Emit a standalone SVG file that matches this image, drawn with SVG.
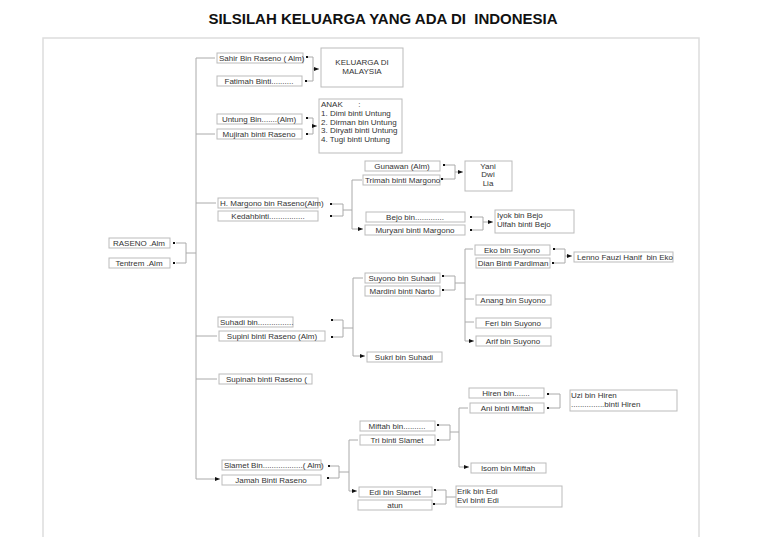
<svg xmlns="http://www.w3.org/2000/svg" width="760" height="537" viewBox="0 0 760 537" xml:space="preserve">
<style>
rect.b{fill:#fff;stroke:#bbb;stroke-width:1}
text{font-family:"Liberation Sans",Arial,sans-serif;font-size:8px;fill:#333;white-space:pre}
.c{text-anchor:middle}
#conn path{fill:none;stroke:#aaa;stroke-width:1}
#conn rect{fill:#111}
</style>
<defs><marker id="a" markerWidth="5" markerHeight="4" refX="5" refY="2" orient="auto" markerUnits="userSpaceOnUse"><path d="M0,0L5,2L0,4Z" fill="#111"/></marker></defs>
<rect width="760" height="537" fill="#fff"/>
<text x="383" y="24" class="c" style="font-size:15px;font-weight:bold;fill:#111">SILSILAH KELUARGA YANG ADA DI  INDONESIA</text>
<path d="M43,537V38H699V537" fill="none" stroke="#ddd" stroke-width="1.5"/>
<g id="conn">
<path d="M176,243H186V263H176M186,253H196M196,58V479"/>
<path d="M196,58H215M196,134H215M196,203H216M196,336H217M196,379H217M196,479H220" marker-end="url(#a)"/>
<path d="M308,57H313V81H307M313,69H319" marker-end="url(#a)"/>
<path d="M308,118H313V134H308M313,126H317" marker-end="url(#a)"/>
<path d="M332,204H343V216H332M343,210H352M352,180V229"/>
<path d="M352,180H362M352,229H363" marker-end="url(#a)"/>
<path d="M445,165H455V179H443M455,172H463" marker-end="url(#a)"/>
<path d="M472,217H483V230H472M483,222H493" marker-end="url(#a)"/>
<path d="M333,320H343V337H333M343,328H353M353,278V356"/>
<path d="M353,278H363M353,356H365" marker-end="url(#a)"/>
<path d="M444,276H455V290H444M455,283H465M465,249V341"/>
<path d="M465,249H473M465,299H474M465,322H474M465,341H474" marker-end="url(#a)"/>
<path d="M555,249H565V263H554M565,256H572" marker-end="url(#a)"/>
<path d="M330,466H339V478H329M339,472H349M349,440V491"/>
<path d="M349,440H358M349,491H357" marker-end="url(#a)"/>
<path d="M439,425H450V440H439M450,432H459M459,408V467"/>
<path d="M459,408H468M459,467H469" marker-end="url(#a)"/>
<path d="M549,394H560V408H549"/>
<path d="M436,490H446V504H435M446,497H456"/>
<rect x="173" y="242" width="2" height="2"/><rect x="173" y="262" width="2" height="2"/>
<rect x="306" y="56" width="2" height="2"/><rect x="305" y="80" width="2" height="2"/>
<rect x="306" y="117" width="2" height="2"/><rect x="306" y="133" width="2" height="2"/>
<rect x="330" y="203" width="2" height="2"/><rect x="330" y="215" width="2" height="2"/>
<rect x="443" y="164" width="2" height="2"/><rect x="441" y="178" width="2" height="2"/>
<rect x="470" y="216" width="2" height="2"/><rect x="470" y="229" width="2" height="2"/>
<rect x="331" y="319" width="2" height="2"/><rect x="331" y="336" width="2" height="2"/>
<rect x="442" y="275" width="2" height="2"/><rect x="442" y="289" width="2" height="2"/>
<rect x="553" y="248" width="2" height="2"/><rect x="552" y="262" width="2" height="2"/>
<rect x="328" y="465" width="2" height="2"/><rect x="327" y="477" width="2" height="2"/>
<rect x="437" y="424" width="2" height="2"/><rect x="437" y="439" width="2" height="2"/>
<rect x="547" y="393" width="2" height="2"/><rect x="547" y="407" width="2" height="2"/>
<rect x="434" y="489" width="2" height="2"/><rect x="433" y="503" width="2" height="2"/>
</g>
<g id="raseno"><rect class="b" x="109" y="238" width="61" height="10"/><text x="139" y="246" class="c">RASENO .Alm</text></g>
<g id="tentrem"><rect class="b" x="109" y="258" width="61" height="10"/><text x="139" y="266" class="c">Tentrem .Alm</text></g>
<g id="sahir"><rect class="b" x="217" y="53" width="86" height="10"/><text x="219" y="61">Sahir Bin Raseno ( Alm)</text></g>
<g id="fatimah"><rect class="b" x="217" y="76" width="85" height="10"/><text x="259" y="84" class="c">Fatimah Binti..........</text></g>
<g id="malaysia"><rect class="b" x="321" y="48" width="82" height="39"/><text x="362" y="65" class="c">KELUARGA DI</text><text x="362" y="74" class="c">MALAYSIA</text></g>
<g id="untung"><rect class="b" x="217" y="114" width="85" height="10"/><text x="259" y="122" class="c">Untung Bin.......(Alm)</text></g>
<g id="mujirah"><rect class="b" x="217" y="129" width="85" height="10"/><text x="259" y="137" class="c">Mujirah binti Raseno</text></g>
<g id="anak"><rect class="b" x="319" y="99" width="83" height="54"/><text x="321" y="107">ANAK       :</text><text x="321" y="116">1. Dimi binti Untung</text><text x="321" y="125">2. Dirman bin Untung</text><text x="321" y="133">3. Diryati binti Untung</text><text x="321" y="142">4. Tugi binti Untung</text></g>
<g id="margono"><rect class="b" x="218" y="198" width="100" height="10"/><text x="220" y="206">H. Margono bin Raseno(Alm)</text></g>
<g id="kedah"><rect class="b" x="218" y="211" width="100" height="10"/><text x="268" y="219" class="c">Kedahbinti................</text></g>
<g id="gunawan"><rect class="b" x="365" y="161" width="75" height="10"/><text x="402" y="169" class="c">Gunawan (Alm)</text></g>
<g id="trimah"><rect class="b" x="363" y="175" width="77" height="10"/><text x="365" y="183">Trimah binti Margono</text></g>
<g id="yani"><rect class="b" x="465" y="161" width="47" height="30"/><text x="488" y="169" class="c">Yani</text><text x="488" y="177" class="c">Dwi</text><text x="488" y="186" class="c">Lia</text></g>
<g id="bejo"><rect class="b" x="366" y="212" width="99" height="10"/><text x="415" y="220" class="c">Bejo bin.............</text></g>
<g id="muryani"><rect class="b" x="365" y="225" width="100" height="10"/><text x="415" y="233" class="c">Muryani binti Margono</text></g>
<g id="iyok"><rect class="b" x="495" y="210" width="79" height="23"/><text x="497" y="218">Iyok bin Bejo</text><text x="497" y="227">Ulfah binti Bejo</text></g>
<g id="eko"><rect class="b" x="475" y="245" width="75" height="10"/><text x="512" y="253" class="c">Eko bin Suyono</text></g>
<g id="dian"><rect class="b" x="476" y="258" width="74" height="10"/><text x="513" y="266" class="c">Dian Binti Pardiman</text></g>
<g id="lenno"><rect class="b" x="574" y="252" width="99" height="10"/><text x="577" y="260">Lenno Fauzi Hanif  bin Eko</text></g>
<g id="suyono"><rect class="b" x="365" y="273" width="75" height="10"/><text x="402" y="281" class="c">Suyono bin Suhadi</text></g>
<g id="mardini"><rect class="b" x="365" y="286" width="75" height="10"/><text x="402" y="294" class="c">Mardini binti Narto</text></g>
<g id="anang"><rect class="b" x="476" y="295" width="75" height="10"/><text x="513" y="303" class="c">Anang bin Suyono</text></g>
<g id="feri"><rect class="b" x="476" y="318" width="75" height="10"/><text x="513" y="326" class="c">Feri bin Suyono</text></g>
<g id="arif"><rect class="b" x="476" y="336" width="75" height="10"/><text x="513" y="344" class="c">Arif bin Suyono</text></g>
<g id="sukri"><rect class="b" x="367" y="352" width="75" height="10"/><text x="404" y="360" class="c">Sukri bin Suhadi</text></g>
<g id="suhadi"><rect class="b" x="218" y="317" width="75" height="10"/><text x="220" y="325">Suhadi bin................</text></g>
<g id="supini"><rect class="b" x="219" y="331" width="106" height="10"/><text x="272" y="339" class="c">Supini binti Raseno (Alm)</text></g>
<g id="supinah"><rect class="b" x="219" y="374" width="93" height="10"/><text x="226" y="382">Supinah binti Raseno (</text></g>
<g id="hiren"><rect class="b" x="469" y="388" width="75" height="10"/><text x="506" y="396" class="c">Hiren bin.......</text></g>
<g id="ani"><rect class="b" x="470" y="403" width="74" height="10"/><text x="507" y="411" class="c">Ani binti Miftah</text></g>
<g id="uzi"><rect class="b" x="570" y="390" width="107" height="21"/><text x="571" y="398">Uzi bin Hiren</text><text x="571" y="407">...............binti Hiren</text></g>
<g id="miftah"><rect class="b" x="360" y="421" width="75" height="10"/><text x="397" y="429" class="c">Miftah bin..........</text></g>
<g id="tri"><rect class="b" x="360" y="435" width="75" height="10"/><text x="397" y="443" class="c">Tri binti Slamet</text></g>
<g id="isom"><rect class="b" x="471" y="463" width="75" height="10"/><text x="508" y="471" class="c">Isom bin Miftah</text></g>
<g id="slamet"><rect class="b" x="222" y="460" width="99" height="10"/><text x="224" y="468">Slamet Bin..................( Alm)</text></g>
<g id="jamah"><rect class="b" x="222" y="475" width="99" height="10"/><text x="271" y="483" class="c">Jamah Binti Raseno</text></g>
<g id="edi"><rect class="b" x="359" y="487" width="73" height="10"/><text x="395" y="495" class="c">Edi bin Slamet</text></g>
<g id="atun"><rect class="b" x="358" y="500" width="74" height="10"/><text x="395" y="508" class="c">atun</text></g>
<g id="erik"><rect class="b" x="456" y="486" width="106" height="21"/><text x="457" y="494">Erik bin Edi</text><text x="457" y="503">Evi binti Edi</text></g>
</svg>
